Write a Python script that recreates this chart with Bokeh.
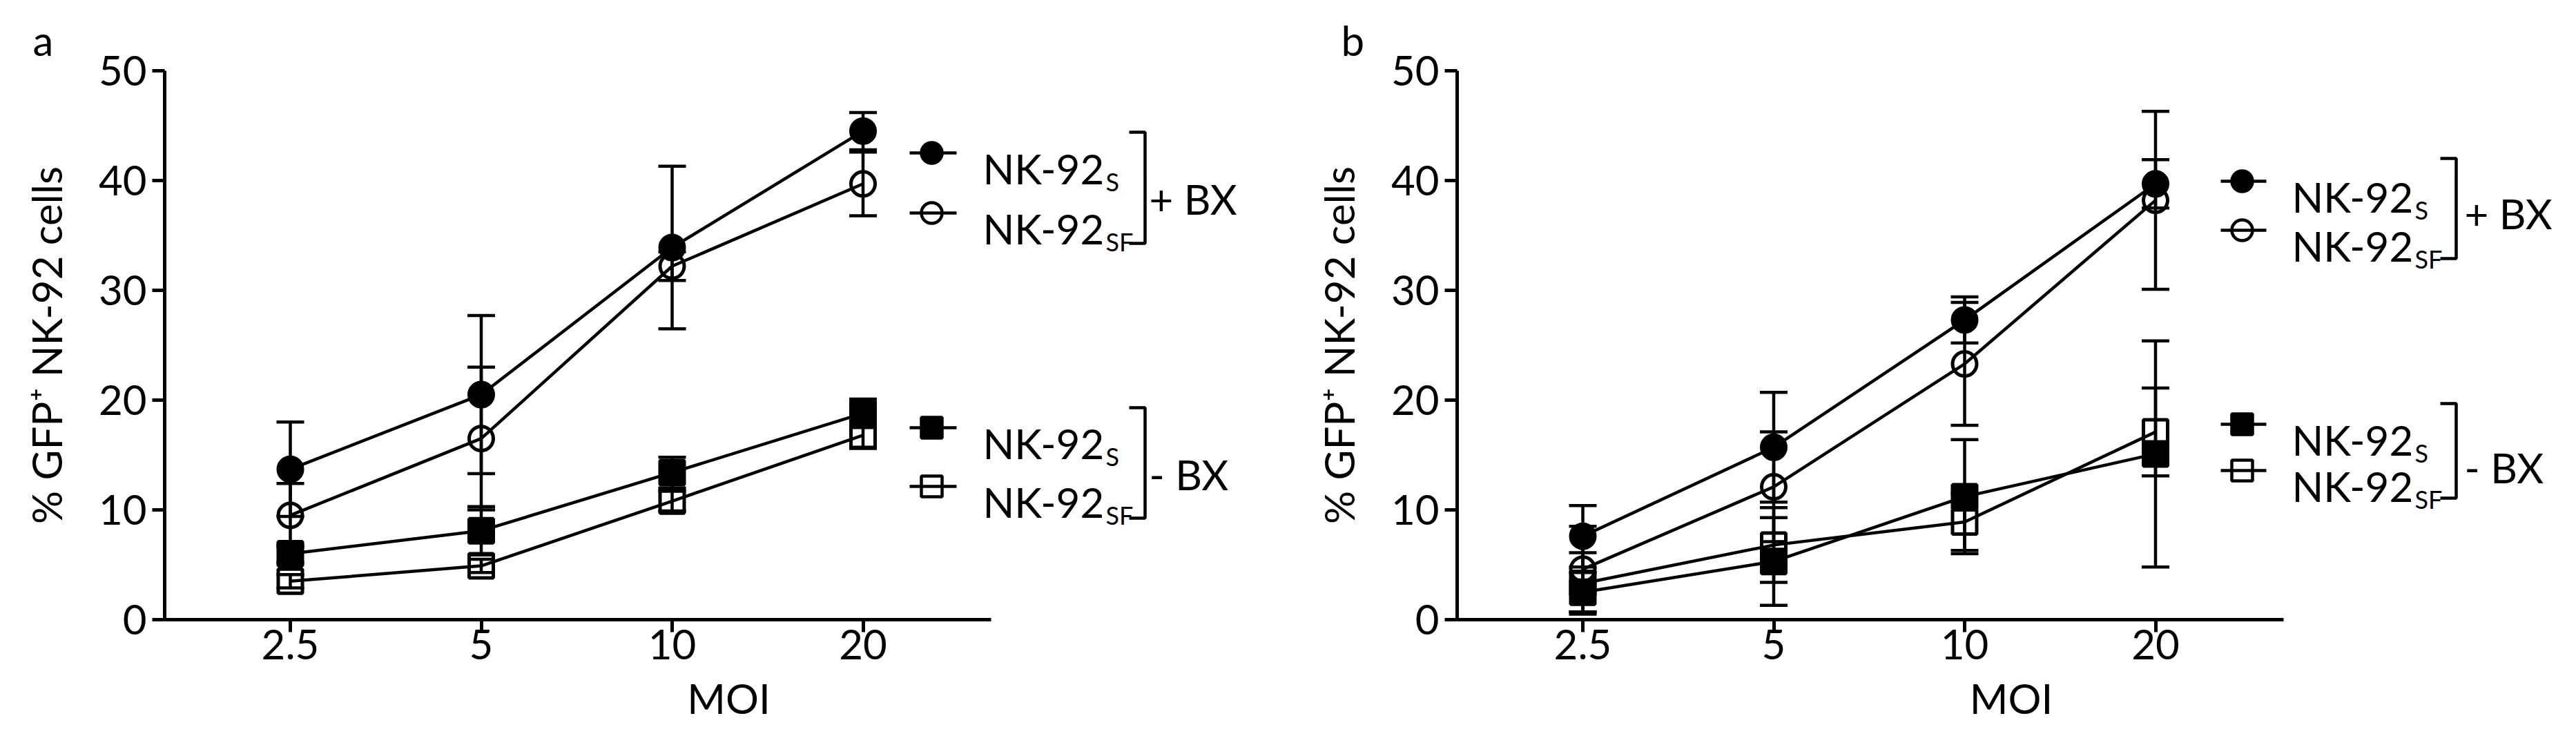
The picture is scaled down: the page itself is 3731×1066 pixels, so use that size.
from bokeh.plotting import figure
from bokeh.models import Range1d, FixedTicker, Whisker, TeeHead, ColumnDataSource
from bokeh.layouts import row
from bokeh.embed import file_html
from bokeh.resources import INLINE

# ---------------- data ----------------
moi = ["2.5", "5", "10", "20"]

# panel a
a_s_bx = [13.7, 20.5, 33.9, 44.5]
a_s_bx_err = [4.3, 7.2, 7.4, 1.7]
a_sf_bx = [9.5, 16.5, 32.2, 39.7]
a_sf_bx_err = [2.9, 6.5, 1.3, 2.9]
a_s_nobx = [6.0, 8.1, 13.4, 18.8]
a_s_nobx_err = [0.8, 2.2, 1.4, 1.3]
a_sf_nobx = [3.5, 4.9, 10.8, 16.8]
a_sf_nobx_err = [0.6, 0.6, 0.9, 1.2]

# panel b
b_s_bx = [7.6, 15.7, 27.3, 39.7]
b_s_bx_err = [2.8, 5.0, 2.1, 2.2]
b_sf_bx = [4.6, 12.1, 23.3, 38.2]
b_sf_bx_err = [3.9, 5.0, 5.6, 8.1]
b_s_nobx = [2.5, 5.3, 11.2, 15.1]
b_s_nobx_err = [1.8, 4.0, 5.2, 10.3]
b_sf_nobx = [3.3, 6.8, 8.9, 17.1]
b_sf_nobx_err = [2.8, 3.4, 2.6, 4.0]

y_ticks = [0, 10, 20, 30, 40, 50]
legend_main = "NK-92"
legend_subs = ["S", "SF", "S", "SF"]
legend_tags = ["+ BX", "- BX"]
y_title = "% GFP\u207a NK-92 cells"
x_title = "MOI"
panel_letters = ["a", "b"]

# ---------------- layout / style constants ----------------
FONT = "Lato"
FS = "60px"
FS_SUB = "36px"
INK = "#000000"
FIG_H = 1058
FRAME_LEFT = 238
FRAME_TOP = 102
FRAME_H = 795
PX_PER_CAT = 276.5
PX_PER_Y = FRAME_H / 50.0
X0 = 1 - 182 / PX_PER_CAT
X_AXIS_END = 4 + 185 / PX_PER_CAT
Y0_PAGE = 8 + FRAME_TOP + FRAME_H
LW = 4.5


def make_panel(letter, series, fig_w, axis_page_x, lay):
    x_end = X0 + (fig_w - FRAME_LEFT) / PX_PER_CAT
    p = figure(width=fig_w, height=FIG_H,
               x_range=Range1d(X0, x_end), y_range=Range1d(0, 50),
               output_backend="svg", toolbar_location=None,
               min_border_left=FRAME_LEFT, min_border_right=0,
               min_border_top=FRAME_TOP,
               min_border_bottom=FIG_H - FRAME_TOP - FRAME_H)
    p.outline_line_color = None
    p.grid.visible = False
    p.background_fill_color = "white"
    p.border_fill_color = "white"

    # panel letter as the figure title, pulled left of the frame
    p.title.text = letter
    p.title.align = "left"
    p.title.offset = lay["letter_x"] - axis_page_x
    p.title.standoff = lay["letter_standoff"]
    p.title.text_font = FONT
    p.title.text_font_size = FS
    p.title.text_font_style = "normal"
    p.title.text_color = INK

    xpos = [i + 1 for i in range(len(moi))]
    p.xaxis.ticker = FixedTicker(ticks=xpos)
    p.xaxis.major_label_overrides = {x: lab for x, lab in zip(xpos, moi)}
    p.xaxis.bounds = (X0, X_AXIS_END)
    p.yaxis.ticker = FixedTicker(ticks=y_ticks)
    p.yaxis.bounds = (0, 50)
    for ax in (p.xaxis[0], p.yaxis[0]):
        ax.axis_line_width = 5
        ax.axis_line_color = INK
        ax.major_tick_line_width = 5
        ax.major_tick_line_color = INK
        ax.major_tick_out = 18
        ax.major_tick_in = 0
        ax.minor_tick_line_color = None
        ax.major_label_text_font = FONT
        ax.major_label_text_font_size = FS
        ax.major_label_text_color = INK
        ax.axis_label_text_font = FONT
        ax.axis_label_text_font_size = FS
        ax.axis_label_text_font_style = "normal"
        ax.axis_label_text_color = INK
        ax.axis_label_text_line_height = 1.0
    p.xaxis.axis_label = x_title
    p.yaxis.axis_label = y_title
    p.yaxis.major_label_standoff = 8
    p.yaxis.axis_label_standoff = 37
    p.xaxis.major_label_standoff = -4
    p.xaxis.axis_label_standoff = 17

    markers = ["circle", "circle", "square", "square"]
    filled = [True, False, True, False]
    for (vals, errs), mk, fl in zip(series, markers, filled):
        src = ColumnDataSource(dict(
            x=xpos, y=vals,
            lower=[v - e for v, e in zip(vals, errs)],
            upper=[v + e for v, e in zip(vals, errs)]))
        w = Whisker(base="x", lower="lower", upper="upper", source=src,
                    line_width=LW, line_color=INK,
                    upper_head=TeeHead(size=40, line_width=LW, line_color=INK),
                    lower_head=TeeHead(size=40, line_width=LW, line_color=INK))
        p.add_layout(w)
        p.line("x", "y", source=src, line_width=LW, line_color=INK)
        p.scatter("x", "y", source=src, marker=mk, size=35, line_width=5,
                  line_color=INK, fill_color=INK if fl else None)

    # ---- custom legend (page-pixel layout converted to data units) ----
    def xd(page_x):
        return X0 + (page_x - axis_page_x) / PX_PER_CAT

    def yd(page_y):
        return (Y0_PAGE - page_y) / PX_PER_Y

    for i, ry in enumerate(lay["rows"]):
        mk = markers[i]
        p.line([xd(lay["line"][0]), xd(lay["line"][1])], [yd(ry), yd(ry)],
               line_width=LW, line_color=INK)
        p.scatter([xd(lay["marker"])], [yd(ry)], marker=mk, size=30, line_width=4.5,
                  line_color=INK, fill_color=INK if filled[i] else None)
        p.text([xd(lay["text"])], [yd(ry + 22)], text=[legend_main],
               text_font={"value": FONT}, text_font_size=FS, text_color=INK,
               text_baseline="alphabetic", text_align="left")
        p.text([xd(lay["text"] + lay["sub_dx"])], [yd(ry + 41)], text=[legend_subs[i]],
               text_font={"value": FONT}, text_font_size=FS_SUB, text_color=INK,
               text_baseline="alphabetic", text_align="left")
    for (top, bot), tag, tc in zip(lay["brackets"], legend_tags, lay["tag_y"]):
        bx0, bx1 = xd(lay["bracket_x"][0]), xd(lay["bracket_x"][1])
        p.line([bx0, bx1, bx1, bx0], [yd(top), yd(top), yd(bot), yd(bot)],
               line_width=LW, line_color=INK)
        p.text([xd(lay["tag_x"])], [yd(tc + 21)], text=[tag],
               text_font={"value": FONT}, text_font_size=FS, text_color=INK,
               text_baseline="alphabetic", text_align="left")
    return p


lay_a = dict(rows=[229, 316, 627, 712], marker=1357, line=(1325, 1393), text=1431,
             sub_dx=178, brackets=[(199, 360), (598, 758)], bracket_x=(1643, 1666),
             tag_x=1672, tag_y=[274, 673], letter_x=55, letter_standoff=17)
lay_b = dict(rows=[270, 341, 622, 689], marker=3255, line=(3224, 3290), text=3327,
             sub_dx=178, brackets=[(237, 382), (592, 729)], bracket_x=(3542, 3565),
             tag_x=3577, tag_y=[295, 663], letter_x=1950, letter_standoff=17)

pa = make_panel(panel_letters[0],
                [(a_s_bx, a_s_bx_err), (a_sf_bx, a_sf_bx_err),
                 (a_s_nobx, a_s_nobx_err), (a_sf_nobx, a_sf_nobx_err)],
                1872, 246, lay_a)
pb = make_panel(panel_letters[1],
                [(b_s_bx, b_s_bx_err), (b_sf_bx, b_sf_bx_err),
                 (b_s_nobx, b_s_nobx_err), (b_sf_nobx, b_sf_nobx_err)],
                1843, 2118, lay_b)

layout = row(pa, pb)
open("out.html", "w").write(file_html(layout, INLINE))
